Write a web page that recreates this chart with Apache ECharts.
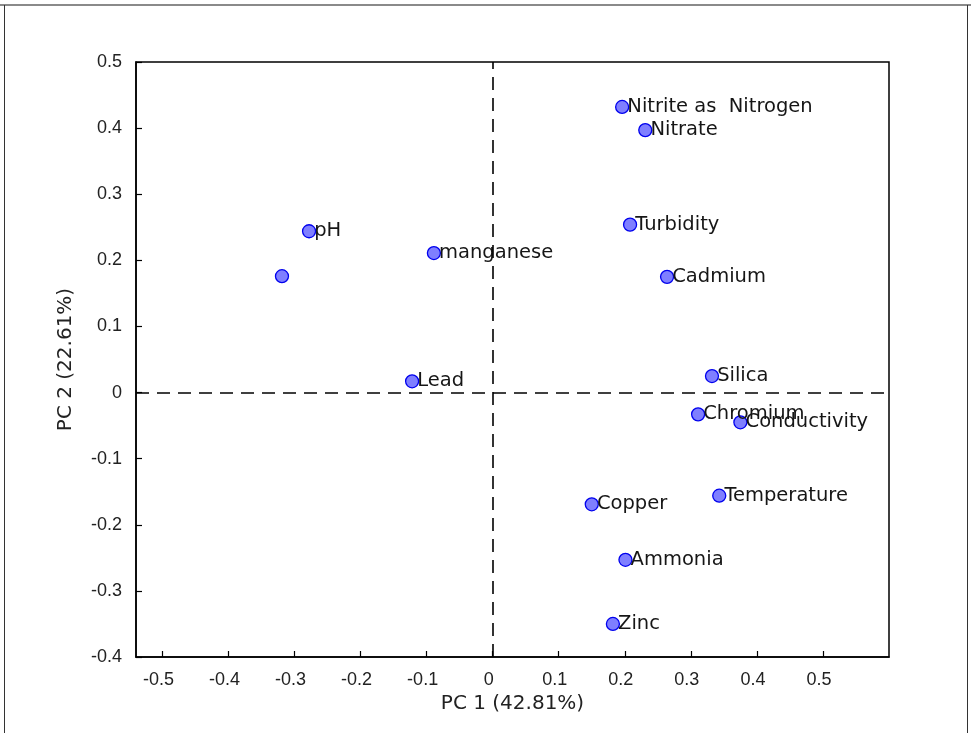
<!DOCTYPE html>
<html>
<head>
<meta charset="utf-8">
<script src="https://cdn.jsdelivr.net/npm/echarts@6/dist/echarts.min.js"></script>
<style>
  html, body { margin: 0; padding: 0; background: #fff; }
  #chart { width: 971px; height: 733px; }
</style>
</head>
<body>
<div id="chart"></div>
<script>
// Variable names and their loadings on the first two principal components
const variables = ['Nitrite as  Nitrogen', 'Nitrate', 'Turbidity', 'Cadmium', 'pH', '', 'manganese', 'Lead',
  'Silica', 'Chromium', 'Conductivity', 'Temperature', 'Copper', 'Ammonia', 'Zinc'];
const pc1 = [0.196, 0.231, 0.208, 0.264, -0.278, -0.319, -0.089, -0.122,
  0.332, 0.311, 0.375, 0.343, 0.150, 0.201, 0.182];
const pc2 = [0.432, 0.397, 0.254, 0.175, 0.244, 0.176, 0.211, 0.017,
  0.025, -0.033, -0.045, -0.156, -0.169, -0.253, -0.350];

// Tick positions and their labels
const xTicks = [-0.5, -0.4, -0.3, -0.2, -0.1, 0, 0.1, 0.2, 0.3, 0.4, 0.5];
const xTickLabels = ['-0.5', '-0.4', '-0.3', '-0.2', '-0.1', '0', '0.1', '0.2', '0.3', '0.4', '0.5'];
const yTicks = [-0.4, -0.3, -0.2, -0.1, 0, 0.1, 0.2, 0.3, 0.4, 0.5];
const yTickLabels = ['-0.4', '-0.3', '-0.2', '-0.1', '0', '0.1', '0.2', '0.3', '0.4', '0.5'];

const xLabel = 'PC 1 (42.81%)';
const yLabel = 'PC 2 (22.61%)';

const FONT = '"Liberation Sans", Arial, sans-serif';
const WIDE_FONT = '"DejaVu Sans", sans-serif';

function tickText(ticks, labels) {
  return v => {
    const i = ticks.findIndex(t => Math.abs(t - v) < 1e-6);
    return i >= 0 ? labels[i] : '';
  };
}

const points = variables.map((n, i) => ({ name: n, value: [pc1[i], pc2[i]] }));

const chart = echarts.init(document.getElementById('chart'), null, { renderer: 'canvas' });
chart.setOption({
  animation: false,
  backgroundColor: '#fff',
  grid: { left: 136, top: 62, right: 82, bottom: 76, show: true, borderColor: '#000', borderWidth: 1.5, backgroundColor: 'transparent' },
  xAxis: {
    type: 'value', min: -0.54, max: 0.6,
    name: xLabel, nameLocation: 'middle', nameGap: 37,
    nameTextStyle: { fontFamily: WIDE_FONT, fontSize: 20, color: '#222' },
    axisLine: { show: true, onZero: false, lineStyle: { color: '#000', width: 1.5 } },
    axisTick: { show: true, inside: true, length: 6, customValues: xTicks, lineStyle: { color: '#000', width: 1.2 } },
    axisLabel: { show: true, customValues: xTicks, formatter: tickText(xTicks, xTickLabels), margin: 14,
      padding: [0, 8, 0, 0], fontFamily: FONT, fontSize: 18, color: '#222' },
    splitLine: { show: false }
  },
  yAxis: {
    type: 'value', min: -0.4, max: 0.5,
    name: yLabel, nameLocation: 'middle', nameGap: 60, nameRotate: 90,
    nameTextStyle: { fontFamily: WIDE_FONT, fontSize: 20, color: '#222' },
    axisLine: { show: true, onZero: false, lineStyle: { color: '#000', width: 1.5 } },
    axisTick: { show: true, inside: true, length: 6, customValues: yTicks, lineStyle: { color: '#000', width: 1.2 } },
    axisLabel: { show: true, customValues: yTicks, formatter: tickText(yTicks, yTickLabels), margin: 14, fontFamily: FONT, fontSize: 18, color: '#222' },
    splitLine: { show: false }
  },
  series: [{
    type: 'scatter',
    data: points,
    symbol: 'circle',
    symbolSize: 13,
    itemStyle: { color: '#7f7fff', borderColor: '#0000ee', borderWidth: 1.3, opacity: 1 },
    label: {
      show: true, position: 'right', distance: -2, offset: [0, 3],
      formatter: p => p.name,
      fontFamily: WIDE_FONT, fontSize: 19.5, color: '#161616'
    },
    labelLayout: { hideOverlap: false },
    markLine: {
      silent: true, symbol: 'none', animation: false,
      label: { show: false },
      lineStyle: { color: '#000', type: [13, 8], width: 1.6 },
      data: [{ xAxis: 0 }, { yAxis: 0 }]
    },
    z: 3
  }],
  graphic: [
    { type: 'line', shape: { x1: 0, y1: 5, x2: 971, y2: 5 }, style: { stroke: '#8a8a8a', lineWidth: 2 } },
    { type: 'line', shape: { x1: 4.5, y1: 5, x2: 4.5, y2: 733 }, style: { stroke: '#333', lineWidth: 1 } },
    { type: 'line', shape: { x1: 967.5, y1: 5, x2: 967.5, y2: 733 }, style: { stroke: '#333', lineWidth: 1 } }
  ]
});
</script>
</body>
</html>
